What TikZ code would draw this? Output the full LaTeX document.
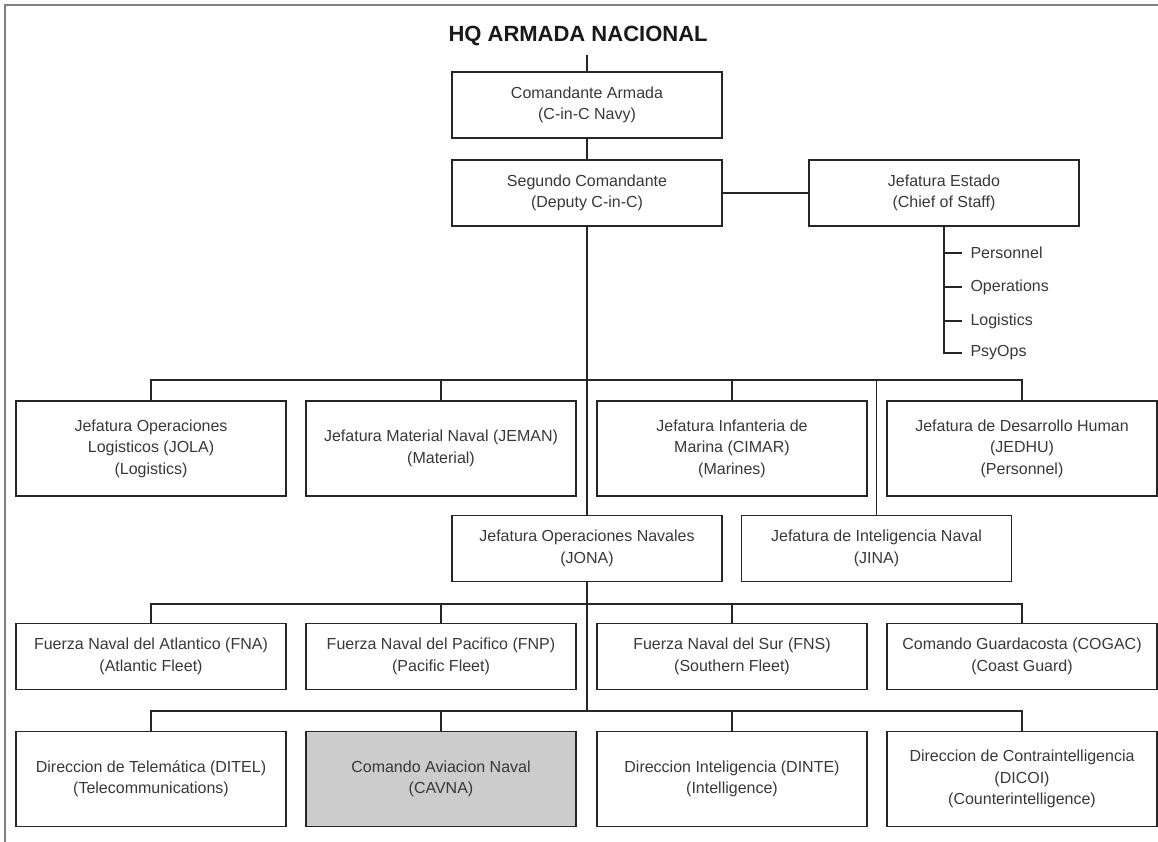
\documentclass[tikz,border=0pt]{standalone}
\usepackage{fontspec}
\setmainfont{Liberation Sans}
\begin{document}
\begin{tikzpicture}
  \tikzset{
    unit/.style={
      rectangle,
      draw=black!85,
      line width=1.5pt,
      minimum width=270pt,
      minimum height=66pt,
      text=black!78,
      font=\fontsize{16}{21.5}\selectfont,
      align=center
    },
    tall/.style={minimum height=95pt},
    link/.style={draw=black!85, line width=1.5pt},
    branch/.style={
      text=black!78,
      font=\fontsize{16}{19}\selectfont,
      anchor=west
    }
  }

  \useasboundingbox (0pt,0pt) rectangle (1158pt,-842pt);
  \draw[black!50, line width=2.5pt] (5pt,-842pt) -- (5pt,-5pt) -- (1158pt,-5pt);

  \node[font=\bfseries\fontsize{22}{22}\selectfont, text=black!90, anchor=base west]
    (hq) at (445pt,-42pt) {HQ ARMADA NACIONAL};

  % command
  \node[unit] (cinc) at (587pt,-105pt) {Comandante Armada\\(C-in-C Navy)};
  \node[unit] (deputy) at (587pt,-193pt) {Segundo Comandante\\(Deputy C-in-C)};
  \node[unit] (staff) at (944pt,-193pt) {Jefatura Estado\\(Chief of Staff)};

  \node[branch] (personnel) at (967pt,-253pt) {Personnel};
  \node[branch] (operations) at (967pt,-287pt) {Operations};
  \node[branch] (logistics) at (967pt,-321pt) {Logistics};
  \node[branch] (psyops) at (967pt,-353pt) {PsyOps};

  % jefaturas
  \node[unit, tall] (jola) at (151pt,-448.5pt) {Jefatura Operaciones\\Logisticos (JOLA)\\(Logistics)};
  \node[unit, tall] (jeman) at (441pt,-448.5pt) {Jefatura Material Naval (JEMAN)\\(Material)};
  \node[unit, tall] (cimar) at (732pt,-448.5pt) {Jefatura Infanteria de\\Marina (CIMAR)\\(Marines)};
  \node[unit, tall] (jedhu) at (1022pt,-448.5pt) {Jefatura de Desarrollo Human\\(JEDHU)\\(Personnel)};

  \node[unit] (jona) at (587pt,-548.5pt) {Jefatura Operaciones Navales\\(JONA)};
  \node[unit] (jina) at (876.5pt,-548.5pt) {Jefatura de Inteligencia Naval\\(JINA)};

  % fleets
  \node[unit] (fna) at (151pt,-656.5pt) {Fuerza Naval del Atlantico (FNA)\\(Atlantic Fleet)};
  \node[unit] (fnp) at (441pt,-656.5pt) {Fuerza Naval del Pacifico (FNP)\\(Pacific Fleet)};
  \node[unit] (fns) at (732pt,-656.5pt) {Fuerza Naval del Sur (FNS)\\(Southern Fleet)};
  \node[unit] (cogac) at (1022pt,-656.5pt) {Comando Guardacosta (COGAC)\\(Coast Guard)};

  % direcciones
  \node[unit, tall] (ditel) at (151pt,-779pt) {Direccion de Telemática (DITEL)\\(Telecommunications)};
  \node[unit, tall, fill=black!20] (cavna) at (441pt,-779pt) {Comando Aviacion Naval\\(CAVNA)};
  \node[unit, tall] (dinte) at (732pt,-779pt) {Direccion Inteligencia (DINTE)\\(Intelligence)};
  \node[unit, tall] (dicoi) at (1022pt,-779pt) {Direccion de Contraintelligencia\\(DICOI)\\(Counterintelligence)};

  \coordinate (bus1) at (587pt,-380pt);
  \coordinate (bus2) at (587pt,-604pt);
  \coordinate (bus3) at (587pt,-711pt);

  \draw[link, line width=1.2pt, shorten <=5pt] (hq.south -| cinc.north) -- (cinc.north);
  \draw[link] (cinc.south) -- (deputy.north);
  \draw[link] (deputy.east) -- (staff.west);

  \draw[link, shorten >=5pt] (staff.south) |- (psyops.west);
  \draw[link, shorten >=5pt] (personnel.west -| staff.south) -- (personnel.west);
  \draw[link, shorten >=5pt] (operations.west -| staff.south) -- (operations.west);
  \draw[link, shorten >=5pt] (logistics.west -| staff.south) -- (logistics.west);

  \draw[link] (deputy.south) -- (jona.north);
  \draw[link] (jona.south) -- (bus3);

  \draw[link] (jola.north) |- (bus1) -| (jedhu.north);
  \draw[link] (jeman.north) -- (jeman.north |- bus1);
  \draw[link] (cimar.north) -- (cimar.north |- bus1);
  \draw[link] (jina.north) -- (jina.north |- bus1);

  \draw[link] (fna.north) |- (bus2) -| (cogac.north);
  \draw[link] (fnp.north) -- (fnp.north |- bus2);
  \draw[link] (fns.north) -- (fns.north |- bus2);

  \draw[link] (ditel.north) |- (bus3) -| (dicoi.north);
  \draw[link] (cavna.north) -- (cavna.north |- bus3);
  \draw[link] (dinte.north) -- (dinte.north |- bus3);
\end{tikzpicture}
\end{document}
